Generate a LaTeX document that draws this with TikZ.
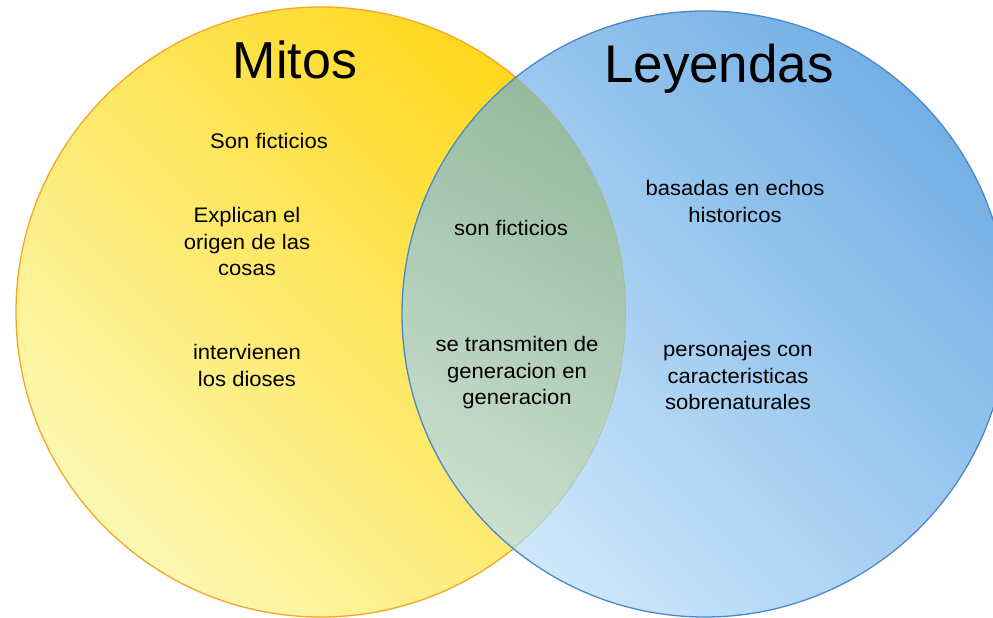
\documentclass[tikz,border=0pt]{standalone}
\usepackage{fontspec}
\setmainfont{Liberation Sans}
\newfontfamily\smallfont[FakeStretch=1.05]{Liberation Sans}
\definecolor{ytop}{RGB}{255,216,28}
\definecolor{ybot}{RGB}{252,248,178}
\definecolor{btop}{RGB}{116,176,229}
\definecolor{bbot}{RGB}{206,231,251}
\definecolor{ltop}{RGB}{148,186,158}
\definecolor{lbot}{RGB}{202,222,206}
\definecolor{yedge}{RGB}{245,166,35}
\definecolor{bedge}{RGB}{74,136,200}
\definecolor{ledge}{RGB}{160,178,130}
\tikzset{
  title/.style={font=\fontsize{52}{60}\selectfont, anchor=base, inner sep=0pt},
  label/.style={font=\smallfont\fontsize{21}{26.5}\selectfont, align=center, anchor=base, inner sep=0pt},
}
\begin{document}
\begin{tikzpicture}[x=1pt,y=1pt]
\useasboundingbox (0,0) rectangle (993,618);
\clip (0,0) rectangle (993,618);
% yellow circle
\shade[top color=ytop, bottom color=ybot, shading angle=-45] (321,306) circle (305);
\draw[yedge, line width=1.3pt] (321,306) circle (305);
% blue circle
\shade[top color=btop, bottom color=bbot, shading angle=-45] (705,304) circle (303);
% lens
\begin{scope}
  \clip (321,306) circle (305);
  \clip (705,304) circle (303);
  \shade[top color=ltop, bottom color=lbot, shading angle=-30] (400,60) rectangle (630,560);
  \draw[ledge, line width=1pt, opacity=0.6] (321,306) circle (305);
\end{scope}
\draw[bedge, line width=1.3pt] (705,304) circle (303);
% texts
\node[title] (mitos) at (295,539) {Mitos};
\node[title, font=\fontsize{53}{60}\selectfont] (leyendas) at (719,535) {Leyendas};
\node[label] (m1) at (269,469) {Son ficticios};
\node[label] (m2) at (247,342) {Explican el\\origen de las\\cosas};
\node[label] (m3) at (247,231.5) {intervienen\\los dioses};
\node[label] (c1) at (511,382) {son ficticios};
\node[label] (c2) at (517,213) {se transmiten de\\generacion en\\generacion};
\node[label] (l1) at (735,395.5) {basadas en echos\\historicos};
\node[label] (l2) at (738,208) {personajes con\\caracteristicas\\sobrenaturales};
\end{tikzpicture}
\end{document}
